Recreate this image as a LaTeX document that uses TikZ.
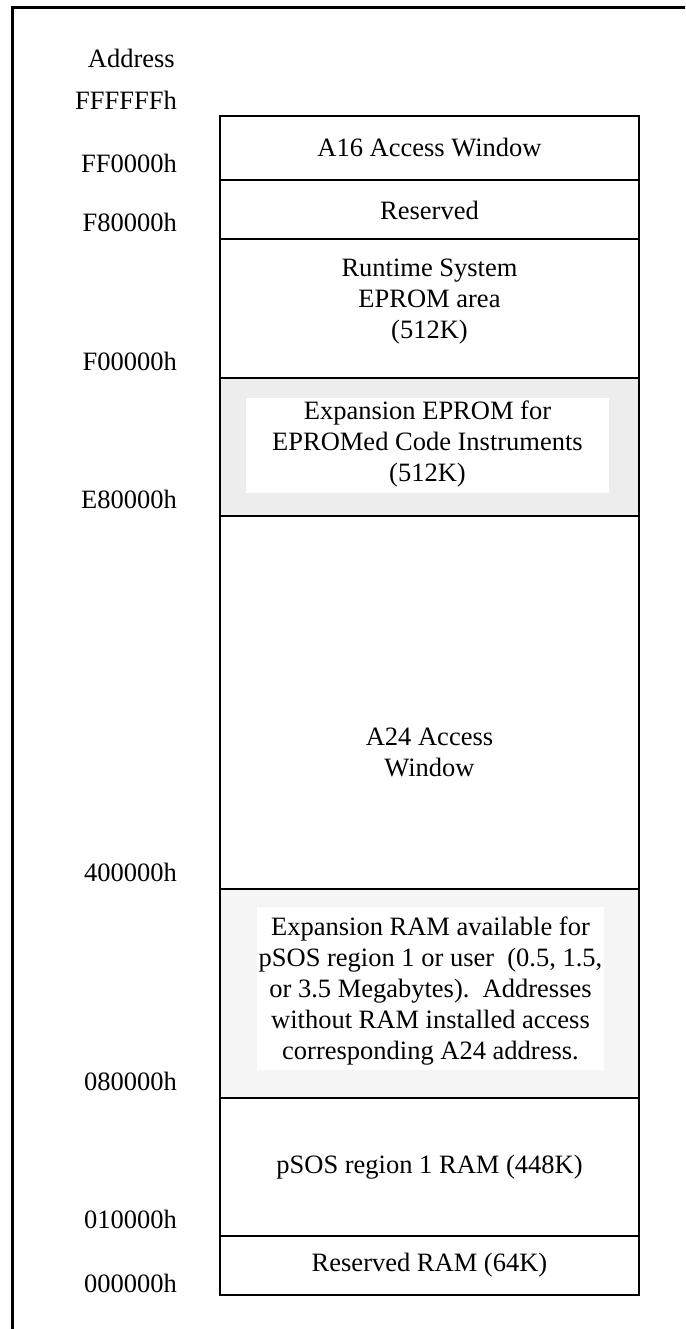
\documentclass[tikz,border=0pt]{standalone}
\usepackage{fontspec}
\setmainfont{Liberation Serif}
\newcommand{\mapfont}{\fontsize{26.5}{31}\selectfont}
\definecolor{shadeA}{HTML}{EDEDED}
\definecolor{shadeB}{HTML}{F5F5F5}
\begin{document}
\begin{tikzpicture}[x=1pt,y=-1pt,
  rule/.style={line width=2.4pt, line cap=rect},
  addr/.style={anchor=east, font=\mapfont, inner sep=0pt},
  region/.style={align=center, font=\mapfont, inner sep=0pt}]
\useasboundingbox (0,0) rectangle (685,1329);
\clip (0,0) rectangle (685,1329);

% shaded regions with their white label panels
\fill[shadeA] (220,378) rectangle (639,516);
\fill[white] (246,398) rectangle (609,493);
\fill[shadeB] (220,889) rectangle (639,1098);
\fill[white] (257,907) rectangle (604,1070);

% memory map column and region boundaries
\draw[rule] (220,116) rectangle (639,1295);
\foreach \y in {180,239,378,516,889,1098,1236}
  \draw[rule] (220,\y) -- (639,\y);

% outer frame
\draw[line width=3pt] (12.5,1340) -- (12.5,7.5) -- (700,7.5);

% address labels
\node[addr] (hdr) at (175,58) {Address};
\node[addr] (aFFFFFF) at (177,100) {FFFFFFh};
\node[addr] (aFF0000) at (177,163) {FF0000h};
\node[addr] (aF80000) at (177,222) {F80000h};
\node[addr] (aF00000) at (177,361) {F00000h};
\node[addr] (aE80000) at (177,499) {E80000h};
\node[addr] (a400000) at (177,872) {400000h};
\node[addr] (a080000) at (177,1081) {080000h};
\node[addr] (a010000) at (177,1219) {010000h};
\node[addr] (a000000) at (177,1283) {000000h};

% region contents
\node[region] (r16) at (429.5,148) {A16 Access Window};
\node[region] (rres) at (429.5,210) {Reserved};
\node[region] (rrts) at (429.5,302) {Runtime System\\EPROM area\\(512K)};
\node[region] (rexe) at (427.5,444) {Expansion EPROM for\\EPROMed Code Instruments\\(512K)};
\node[region] (r24) at (429.5,752) {A24 Access\\Window};
\node[region] (rexr) at (430.5,991) {Expansion RAM available for\\pSOS region 1 or user\ \ (0.5, 1.5,\\or 3.5 Megabytes).\ \ Addresses\\without RAM installed access\\corresponding A24 address.};
\node[region] (rps) at (429.5,1167) {pSOS region 1 RAM (448K)};
\node[region] (rrr) at (429.5,1265) {Reserved RAM (64K)};
\end{tikzpicture}
\end{document}
